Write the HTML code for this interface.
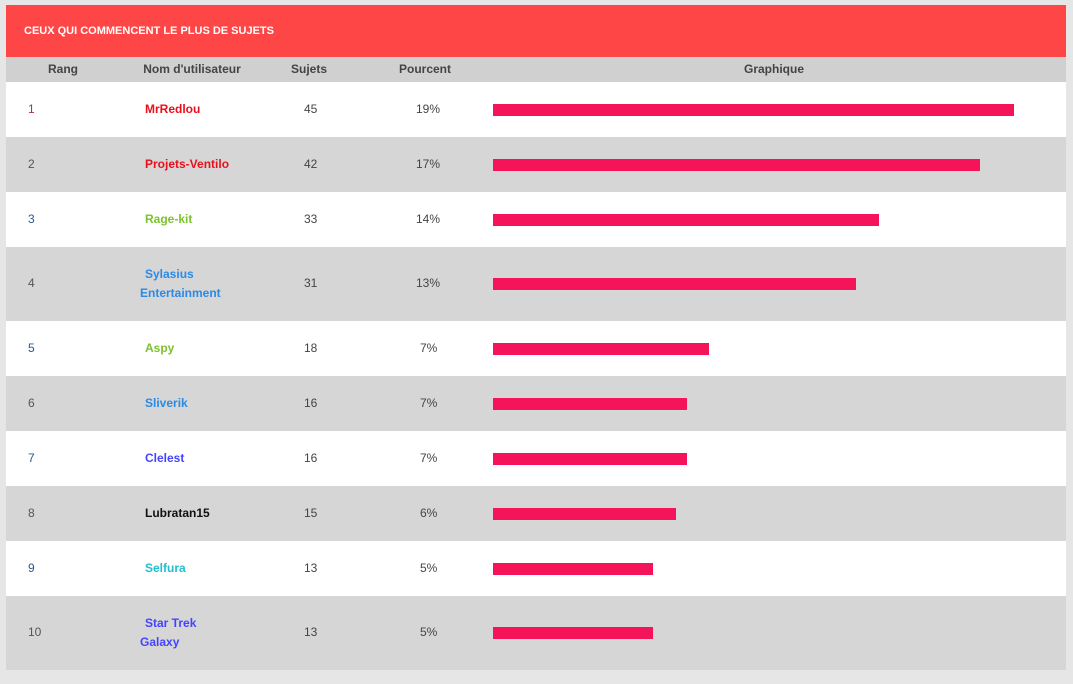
<!DOCTYPE html>
<html><head><meta charset="utf-8"><style>
body{margin:0;width:1073px;height:684px;background:#e6e6e6;font-family:"Liberation Sans",sans-serif;position:relative;overflow:hidden}
#panel{position:absolute;left:6px;top:5px;width:1060px;height:665px;background:#fff}
.hdr{position:absolute;left:0;top:0;width:1060px;height:52px;background:#ff4646;color:#fff;font-size:11px;font-weight:bold;line-height:52px;padding-left:18px;box-sizing:border-box}
.ch{position:absolute;top:52px;height:25px;background:#d0d0d0;width:1060px}
.ch span{position:absolute;top:0;line-height:25px;font-size:12px;font-weight:bold;color:#444;transform:translateX(-50%)}
.row{position:absolute;left:0;width:1060px}
.c{position:absolute;font-size:12px;color:#444}
.nm{position:absolute;left:134px;font-size:12px;font-weight:bold;line-height:19px}
.bar{position:absolute;height:12px;background:#f5135a}
</style></head><body>
<div id="panel">
<div class="hdr">CEUX QUI COMMENCENT LE PLUS DE SUJETS</div>
<div class="ch">
<span style="left:57px">Rang</span>
<span style="left:186px">Nom d'utilisateur</span>
<span style="left:303px">Sujets</span>
<span style="left:419px">Pourcent</span>
<span style="left:768px">Graphique</span>
</div>
<div id="rows"></div>
</div>
<script>
const names=[["MrRedlou"],["Projets-Ventilo"],["Rage-kit"],["Sylasius","Entertainment"],["Aspy"],["Sliverik"],["Clelest"],["Lubratan15"],["Selfura"],["Star Trek","Galaxy"]];
const colors=["#e8101a","#e8101a","#7cc22e","#2a8ae6","#7cc22e","#2a8ae6","#4444ff","#111","#22bfd0","#4444ff"];
const topics=[45,42,33,31,18,16,16,15,13,13];
const percents=["19%","17%","14%","13%","7%","7%","7%","6%","5%","5%"];
function barW(v){return 11.28*v+13.4;}
const rows=document.getElementById('rows');
let y=77;
for(let i=0;i<topics.length;i++){
  const h=names[i].length>1?74:55;
  const r=document.createElement('div');
  r.className='row';
  
  
  r.style.top=y+'px';r.style.height=h+'px';r.style.background=i%2?'#d6d6d6':'#fff';
  const mid=h/2;
  const rk=document.createElement('div');rk.className='c';
  
  
  rk.style.left='22px';rk.style.top=(mid-8)+'px';rk.style.color=i%2?'#555':(i==0?'#b03050':'#2a5a8a');rk.textContent=i+1;r.appendChild(rk);
  const nm=document.createElement('div');nm.className='nm';
  
  
  nm.style.color=colors[i];
  const lines=names[i];
  nm.style.top=(mid-lines.length*9.5)+'px';
  nm.innerHTML=lines.map((l,k)=>'<div style="padding-left:'+(k==0?5:0)+'px">'+l+'</div>').join('');
  r.appendChild(nm);
  const t=document.createElement('div');t.className='c';
  
  
  t.style.left='298px';t.style.top=(mid-8)+'px';t.textContent=topics[i];r.appendChild(t);
  const p=document.createElement('div');p.className='c';
  
  
  p.style.left=(percents[i].length>2?410:414)+'px';p.style.top=(mid-8)+'px';p.textContent=percents[i];r.appendChild(p);
  const b=document.createElement('div');b.className='bar';
  
  
  b.style.left='487px';b.style.top=(mid-6)+'px';b.style.width=barW(topics[i])+'px';r.appendChild(b);
  rows.appendChild(r);
  y+=h;
}
</script>
</body></html>
